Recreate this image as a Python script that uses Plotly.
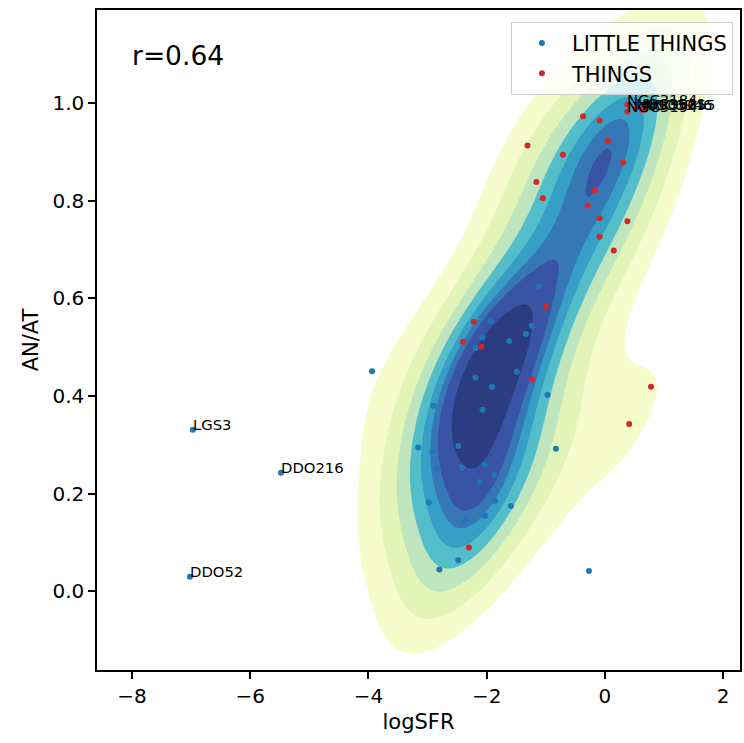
import numpy as np
import plotly.graph_objects as go

# ---------------- data ----------------
lt_x = [-1.12, -1.93, -1.24, -1.34, -2.07, -2.19, -1.62, -1.49, -2.19, -1.91,
        -2.07, -0.97, -3.94, -2.90, -3.16, -2.92, -2.85, -2.48, -2.42, -2.04,
        -1.87, -2.12, -0.83, -2.98, -2.37, -2.03, -1.86, -1.59, -2.48, -2.80,
        -0.27, -6.97, -5.48, -7.02]
lt_y = [0.625, 0.554, 0.544, 0.527, 0.520, 0.498, 0.513, 0.450, 0.438, 0.419,
        0.372, 0.402, 0.451, 0.380, 0.295, 0.286, 0.251, 0.298, 0.254, 0.260,
        0.238, 0.224, 0.292, 0.182, 0.144, 0.155, 0.185, 0.175, 0.064, 0.045,
        0.042, 0.331, 0.243, 0.030]
lt_names = [""] * 31 + ["LGS3", "DDO216", "DDO52"]

th_x = [0.38, 0.38, 0.52, 0.63, 0.68, -0.37, -0.09, -1.31, 0.05, -0.71,
        0.31, -1.16, -1.05, -0.17, -0.29, -0.09, 0.38, -0.09, 0.15, -1.00,
        -2.22, -2.40, -2.09, -1.23, -2.30, 0.78, 0.41]
th_y = [0.997, 0.982, 0.989, 0.986, 0.986, 0.973, 0.964, 0.913, 0.923, 0.894,
        0.878, 0.838, 0.805, 0.821, 0.790, 0.764, 0.758, 0.726, 0.698, 0.583,
        0.552, 0.511, 0.501, 0.434, 0.090, 0.419, 0.343]
th_names = ["NGC3184", "NGC5194", "NGC3521", "NGC6946", "NGC5055"] + [""] * 22

r_text = "r=0.64"
x_ticks = [-8, -6, -4, -2, 0, 2]
y_ticks = [0.0, 0.2, 0.4, 0.6, 0.8, 1.0]
y_ticklabels = ["0.0", "0.2", "0.4", "0.6", "0.8", "1.0"]

# ---------------- bivariate KDE (Scott bandwidth, iso-proportion levels) ----------------
X = np.array(lt_x + th_x)
Y = np.array(lt_y + th_y)
data = np.vstack([X, Y])
n = data.shape[1]
factor = n ** (-1.0 / 6.0)
cov = np.cov(data) * factor ** 2
inv = np.linalg.inv(cov)

bw = np.sqrt(np.diag(cov))
cut, gridsize = 3, 200
gx = np.linspace(X.min() - cut * bw[0], X.max() + cut * bw[0], gridsize)
gy = np.linspace(Y.min() - cut * bw[1], Y.max() + cut * bw[1], gridsize)
GX, GY = np.meshgrid(gx, gy)
dx = GX[..., None] - X[None, None, :]
dy = GY[..., None] - Y[None, None, :]
q = inv[0, 0] * dx * dx + 2 * inv[0, 1] * dx * dy + inv[1, 1] * dy * dy
Z = np.exp(-0.5 * q).sum(axis=-1)

def quantile_to_level(z, quant):
    vals = np.sort(z.ravel())[::-1]
    cum = np.cumsum(vals) / vals.sum()
    idx = np.searchsorted(cum, 1 - np.asarray(quant))
    return np.take(vals, idx, mode="clip")

levels = quantile_to_level(Z, np.linspace(0.05, 1, 10))
nb = len(levels) - 1

ylgnbu = np.array([[255, 255, 217], [237, 248, 177], [199, 233, 180], [127, 205, 187],
                   [65, 182, 196], [29, 145, 192], [34, 94, 168], [37, 52, 148], [8, 29, 88]]) / 255.0
def cmap(v):
    pos = np.linspace(0, 1, len(ylgnbu))
    r, g, b = [np.interp(v, pos, ylgnbu[:, k]) for k in range(3)]
    return "rgb(%d,%d,%d)" % (round(r * 255), round(g * 255), round(b * 255))

band_colors = [cmap((i + 0.5) / nb) for i in range(nb)]

Zt = np.where(Z < levels[0], -1 + Z / levels[0], np.interp(Z, levels, np.arange(nb + 1)))
cols = ["rgba(255,255,255,0)"] + band_colors
cs = []
for i, c in enumerate(cols):
    cs.append([i / (nb + 1), c])
    cs.append([(i + 1) / (nb + 1), c])

fig = go.Figure()
fig.add_trace(go.Contour(
    x=gx, y=gy, z=Zt, zmin=-1, zmax=nb, autocontour=False,
    contours=dict(start=0, end=nb, size=1, coloring="fill", showlines=False),
    colorscale=cs, showscale=False, line=dict(width=0), hoverinfo="skip",
    opacity=0.9, showlegend=False))

fig.add_trace(go.Scatter(x=lt_x, y=lt_y, mode="markers", name="LITTLE THINGS",
                         marker=dict(color="#1f77b4", size=6)))
fig.add_trace(go.Scatter(x=th_x, y=th_y, mode="markers", name="THINGS",
                         marker=dict(color="#d62728", size=6)))

font = "DejaVu Sans"
annotations = []
for xs, ys, names in [(lt_x, lt_y, lt_names), (th_x, th_y, th_names)]:
    for xv, yv, nm in zip(xs, ys, names):
        if nm:
            annotations.append(dict(x=xv, y=yv, text=nm, showarrow=False, xanchor="left",
                                    yanchor="middle", yshift=5, xshift=-2,
                                    font=dict(family=font, size=14.8, color="#000")))
annotations.append(dict(x=-8.0, y=1.098, text=r_text, showarrow=False, xanchor="left",
                        yanchor="middle", xshift=-2, font=dict(family=font, size=26.5, color="#000")))

axis_common = dict(showline=True, linecolor="black", linewidth=1.5, mirror=True,
                   ticks="outside", ticklen=7, tickwidth=1.5, tickcolor="black",
                   showgrid=False, zeroline=False,
                   tickfont=dict(family=font, size=20, color="#000"))

fig.update_layout(
    width=744, height=743,
    margin=dict(l=97, r=2, t=10, b=73),
    plot_bgcolor="white", paper_bgcolor="white",
    xaxis=dict(range=[-8.592, 2.285], tickvals=x_ticks,
               title=dict(text="logSFR", font=dict(family=font, size=21, color="#000"), standoff=8),
               **axis_common),
    yaxis=dict(range=[-0.1607, 1.1903], tickvals=y_ticks, ticktext=y_ticklabels,
               title=dict(text="AN/AT", font=dict(family=font, size=21, color="#000"), standoff=8),
               **axis_common),
    legend=dict(x=0.989, y=0.982, xanchor="right", yanchor="top",
                bgcolor="rgba(255,255,255,0.8)", bordercolor="#cccccc", borderwidth=1,
                font=dict(family=font, size=21, color="#000"), itemwidth=50),
    annotations=annotations,
    showlegend=True,
)

fig.write_html("out.html")
